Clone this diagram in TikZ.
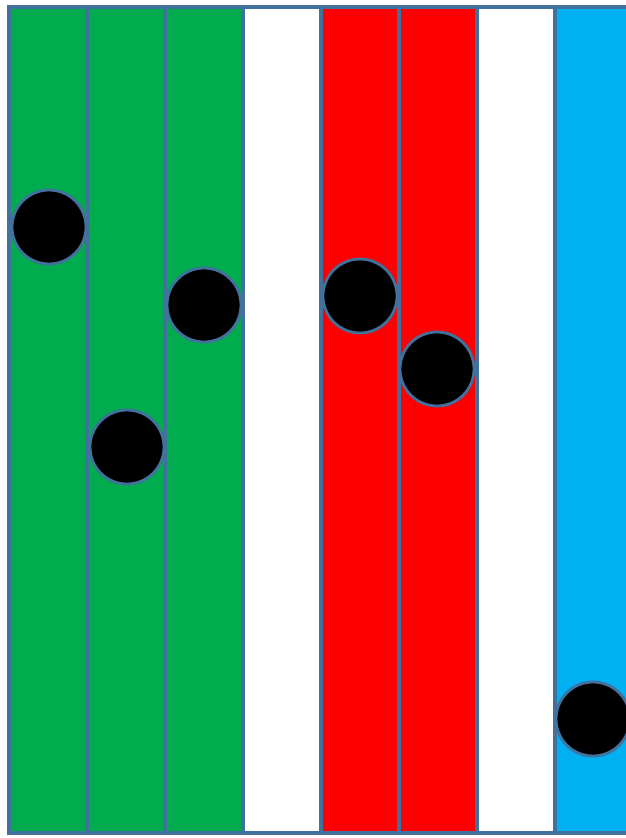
\documentclass[tikz,border=0pt]{standalone}
\usepackage{tikz}

\definecolor{stripgreen}{HTML}{00AC4E}
\definecolor{stripred}{HTML}{FF0000}
\definecolor{stripcyan}{HTML}{00B0F0}
\definecolor{edgeblue}{HTML}{41719C}

\tikzset{
  strip/.style={draw=edgeblue, line width=3.2pt},
  bead/.style={circle, draw=edgeblue, line width=2.8pt, fill=black,
               minimum size=74pt, inner sep=0pt}
}

\begin{document}
\begin{tikzpicture}[x=1pt, y=-1pt]
    \useasboundingbox (0,0) rectangle (626,838);
    \clip (0,0) rectangle (626,838);

    % the eight strips
    \foreach \col [count=\i from 0] in {stripgreen,stripgreen,stripgreen,white,stripred,stripred,white,stripcyan}
        \draw[strip, fill=\col] (9+78*\i,7) rectangle (9+78*\i+78,833);

    % the beads
    \node[bead] (b1) at (49,227) {};
    \node[bead] (b2) at (127,447) {};
    \node[bead] (b3) at (204,305) {};
    \node[bead] (b4) at (360,296) {};
    \node[bead] (b5) at (437,369) {};
    \node[bead] (b6) at (593,719) {};
\end{tikzpicture}
\end{document}
